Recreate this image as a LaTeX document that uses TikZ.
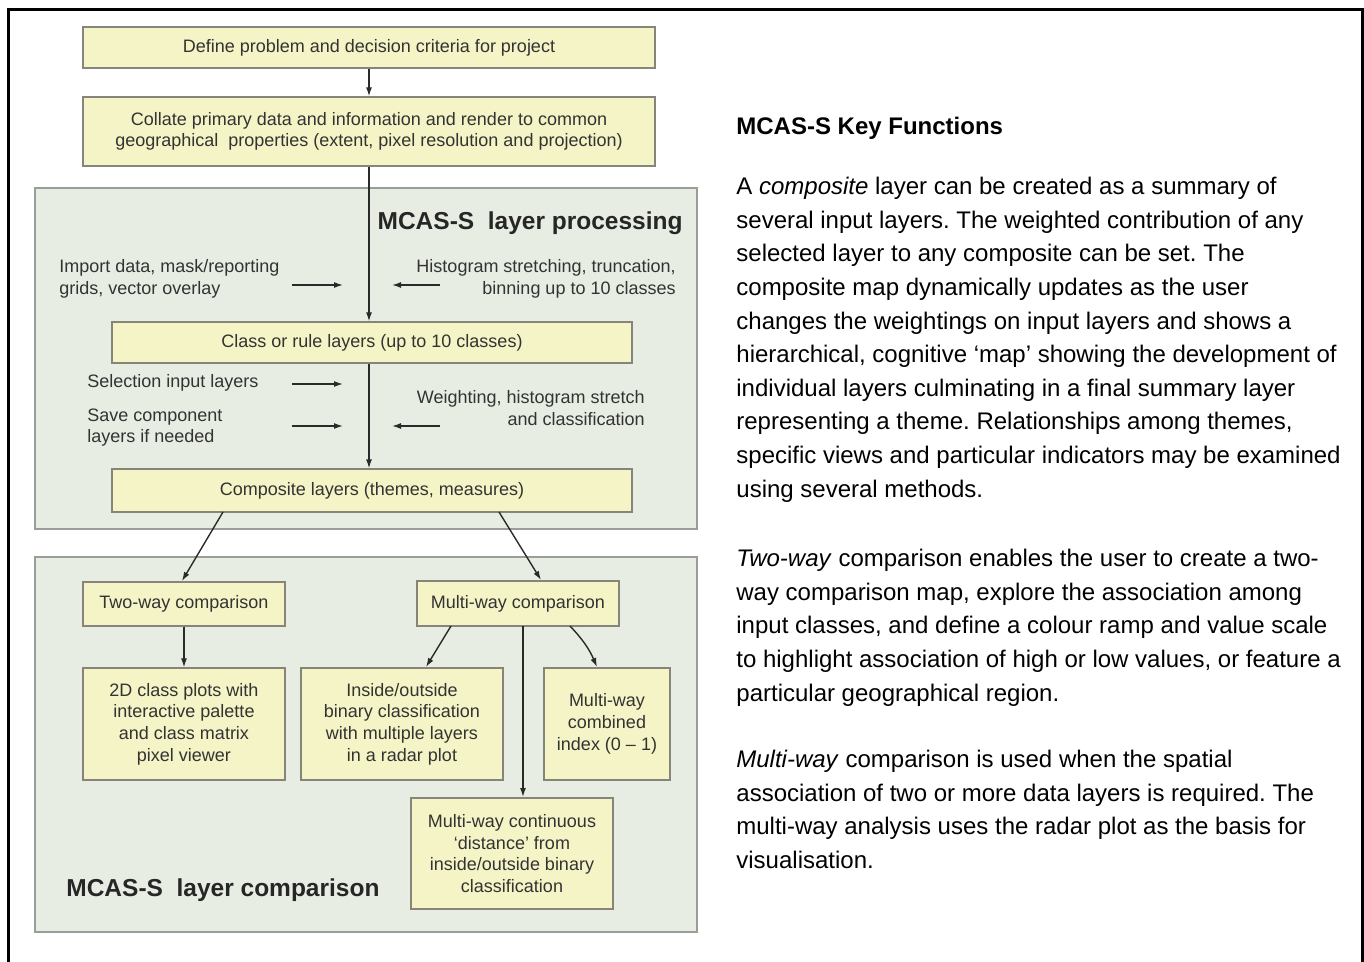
\documentclass[tikz,border=0pt]{standalone}
\usepackage{fontspec}
\setmainfont{Liberation Sans}
\usepackage{xcolor}
\usetikzlibrary{arrows.meta,positioning}
\frenchspacing

\definecolor{boxfill}{HTML}{F4F4C6}
\definecolor{boxline}{HTML}{85857A}
\definecolor{panelfill}{HTML}{E7EDE3}
\definecolor{panelline}{HTML}{9A9E98}
\definecolor{diagtext}{HTML}{333333}
\definecolor{arrowcol}{HTML}{2A2A2A}

\newcommand{\diagfont}{\fontsize{9}{10.85}\selectfont}
\newcommand{\bodyfont}{\fontsize{12}{16.8}\selectfont}
\newcommand{\panelfont}{\fontsize{12.25}{14}\selectfont\bfseries}

\tikzset{
  box/.style={draw=boxline, fill=boxfill, line width=0.6pt, font=\diagfont,
    text=diagtext, align=center, inner sep=0pt},
  panel/.style={draw=panelline, fill=panelfill, line width=0.8pt},
  sidetext/.style={font=\diagfont, text=diagtext, inner sep=0pt},
  arr/.style={-{Latex[length=4.5pt,width=3pt]}, line width=0.7pt, draw=arrowcol},
  bodytext/.style={font=\bodyfont, align=left, inner sep=0pt, anchor=north west}
}

\begin{document}
\begin{tikzpicture}[x=0.5pt, y=-0.5pt]
\useasboundingbox (0,0) rectangle (1364,962);
% outer frame
\draw[line width=1.5pt] (8,962) -- (8,10) -- (1362,10) -- (1362,962);
% panels
\draw[panel] (35,188) rectangle (697,529);
\draw[panel] (35,557) rectangle (697,932);
\node[font=\panelfont, text=black!85, anchor=east, inner sep=0pt] (proctitle) at (683,223) {MCAS-S\ \ layer processing};
\node[font=\panelfont, text=black!85, anchor=west, inner sep=0pt] (cmptitle) at (66,890) {MCAS-S\ \ layer comparison};

% top boxes
\node[box, minimum width=286pt, minimum height=20.5pt] (define) at (369,47.5) {Define problem and decision criteria for project};
\node[box, minimum width=286pt, minimum height=34.5pt] (collate) at (369,131.5) {Collate primary data and information and render to common\\geographical\ \ properties (extent, pixel resolution and projection)};
\draw[arr] (define) -- (collate);

% layer processing
\node[box, minimum width=260pt, minimum height=20.5pt] (classes) at (372,342.5) {Class or rule layers (up to 10 classes)};
\node[box, minimum width=260pt, minimum height=21.5pt] (composite) at (372,490.5) {Composite layers (themes, measures)};
\draw[arr] (collate.south) -- (collate.south |- classes.north);
\draw[arr] (collate.south |- classes.south) -- (collate.south |- composite.north);

\node[sidetext, anchor=west, align=left] (import) at (59,278.5) {Import data, mask/reporting\\grids, vector overlay};
\node[sidetext, anchor=east, align=right] (histo) at (676,279) {Histogram stretching, truncation,\\binning up to 10 classes};
\node[sidetext, anchor=west, align=left] (select) at (87,383) {Selection input layers};
\node[sidetext, anchor=west, align=left] (save) at (87,427.5) {Save component\\layers if needed};
\node[sidetext, anchor=east, align=right] (weight) at (645,408) {Weighting, histogram stretch\\and classification};

\coordinate (importA) at (292,285);  \coordinate (importB) at (343,285);
\coordinate (histoA) at (440,285);   \coordinate (histoB) at (392,285);
\coordinate (selectA) at (292,384);  \coordinate (selectB) at (343,384);
\coordinate (saveA) at (292,426);    \coordinate (saveB) at (343,426);
\coordinate (weightA) at (440,426);  \coordinate (weightB) at (392,426);
\foreach \a in {import,histo,select,save,weight}
  \draw[arr] (\a A) -- (\a B);

% layer comparison
\node[box, minimum width=101pt, minimum height=22pt] (twoway) at (184,604) {Two-way comparison};
\node[box, minimum width=101pt, minimum height=22.5pt] (multiway) at (518,603.5) {Multi-way comparison};
\node[box, minimum width=101pt, minimum height=56pt] (classplot) at (184,724) {2D class plots with\\interactive palette\\and class matrix\\pixel viewer};
\node[box, minimum width=101pt, minimum height=56pt] (radar) at (402,724) {Inside/outside\\binary classification\\with multiple layers\\in a radar plot};
\node[box, minimum width=63pt, minimum height=56pt] (index) at (607,724) {Multi-way\\combined\\index (0 – 1)};
\node[box, minimum width=101pt, minimum height=55.5pt] (distance) at (512,853.5) {Multi-way continuous\\‘distance’ from\\inside/outside binary\\classification};

\coordinate (compL) at (223,512);  \coordinate (compR) at (499,512);
\coordinate (twoT) at (182,581);   \coordinate (multiT) at (541,580);
\coordinate (mwA) at (451,626);    \coordinate (radarT) at (426,667);
\coordinate (mwB) at (523,626);    \coordinate (distT) at (523,797);
\coordinate (mwC) at (570,626);    \coordinate (indexT) at (597,667);
\draw[arr] (compL) -- (twoT);
\draw[arr] (compR) -- (multiT);
\draw[arr] (twoway) -- (classplot);
\draw[arr] (mwA) -- (radarT);
\draw[arr] (mwB) -- (distT);
\draw[arr] (mwC) to[bend left=10] (indexT);

% key functions text
\node[font=\fontsize{12}{14}\selectfont\bfseries, anchor=base west, inner sep=0pt] (keyhead) at (736,135) {MCAS-S Key Functions};
\node[bodytext] (para1) at (736,177) {A \textit{composite} layer can be created as a summary of\\
several input layers. The weighted contribution of any\\
selected layer to any composite can be set. The\\
composite map dynamically updates as the user\\
changes the weightings on input layers and shows a\\
hierarchical, cognitive ‘map’ showing the development of\\
individual layers culminating in a final summary layer\\
representing a theme. Relationships among themes,\\
specific views and particular indicators may be examined\\
using several methods.};
\node[bodytext] (para2) at (736,549) {\textit{Two-way} comparison enables the user to create a two-\\
way comparison map, explore the association among\\
input classes, and define a colour ramp and value scale\\
to highlight association of high or low values, or feature a\\
particular geographical region.};
\node[bodytext] (para3) at (736,750) {\textit{Multi-way} comparison is used when the spatial\\
association of two or more data layers is required. The\\
multi-way analysis uses the radar plot as the basis for\\
visualisation.};
\end{tikzpicture}
\end{document}
